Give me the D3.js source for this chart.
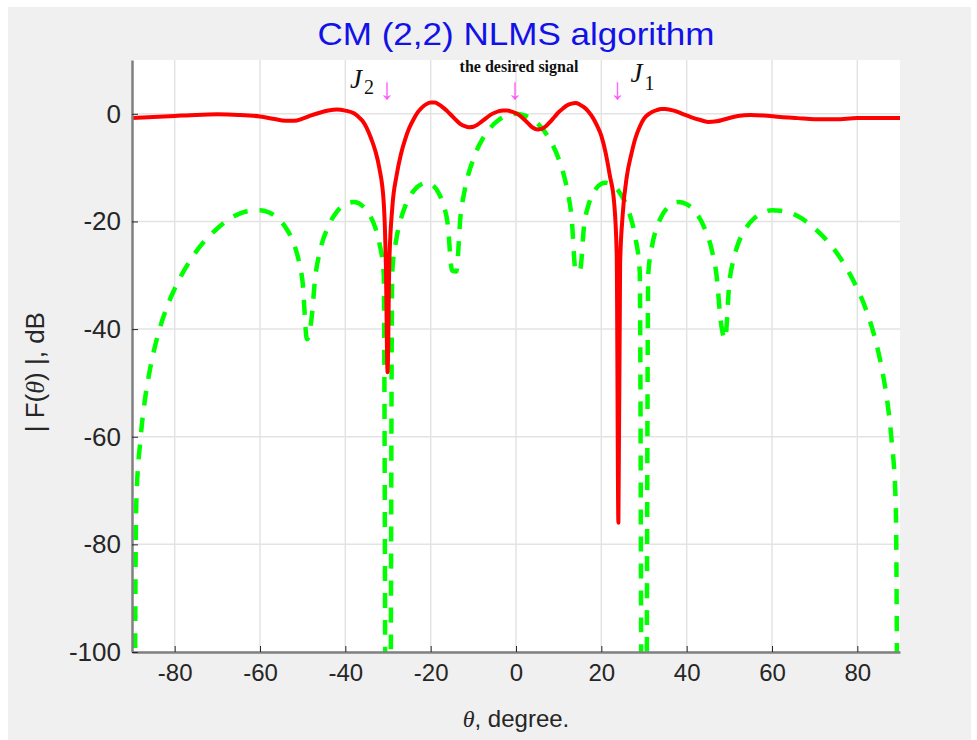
<!DOCTYPE html>
<html>
<head>
<meta charset="utf-8">
<title>CM (2,2) NLMS algorithm</title>
<style>
body { margin: 0; background: #ffffff; }
.axis path { stroke: #808080; stroke-width: 2.5px; }
.axis line { stroke: #262626; }
.axis text { font-family: 'Liberation Sans', Arial, sans-serif; fill: #262626; }
.x.axis text { font-size: 24px; }
.y.axis text { font-size: 26px; }
.grid line { stroke: #e3e3e3; stroke-width: 1.5px; }
</style>
</head>
<body>
<script src="https://d3js.org/d3.v7.min.js"></script>
<script>
'use strict';

// adapted pattern (red, solid)
const redTheta = [-90, -85, -80, -75, -70, -65, -60, -57, -54, -52, -50, -48, -46, -44, -42, -40, -38, -37, -36, -35,
  -34, -33, -32, -31, -30.5, -30.1, -29.7, -29, -28, -27, -26, -25, -24, -23, -22, -21, -20, -19, -18, -17,
  -16, -15, -14, -13, -12, -11, -10, -9, -8, -7, -6, -5, -4, -3, -2, -1, 0, 1, 2, 3,
  4, 5, 6, 7, 8, 9, 10, 11, 12, 13, 14, 15, 16, 17, 18, 19, 20, 21, 22, 23,
  23.6, 24, 24.4, 25, 26, 27, 28, 29, 30, 31, 32, 33, 34, 35, 37, 39, 41, 43, 45, 47,
  49, 52, 55, 58, 62, 66, 70, 75, 80, 85, 90];
const redDb = [-0.8, -0.6, -0.4, -0.2, -0.1, -0.2, -0.5, -0.9, -1.3, -1.3, -0.9, -0.3, 0.2, 0.6, 0.8, 0.6, 0.1, -0.5, -1.3, -2.6,
  -4.5, -6.8, -10.2, -16.5, -28, -48, -28, -17.5, -11.5, -7.6, -4.8, -2.6, -1.0, 0.3, 1.2, 1.8, 2.1, 2.1, 1.7, 1.1,
  0.4, -0.4, -1.2, -1.9, -2.3, -2.5, -2.4, -2.0, -1.4, -0.8, -0.2, 0.2, 0.5, 0.6, 0.6, 0.4, 0.1, -0.4, -1.1, -1.9,
  -2.6, -2.9, -2.8, -2.3, -1.5, -0.6, 0.3, 1.0, 1.6, 1.9, 2.0, 1.7, 1.2, 0.4, -0.7, -2.2, -4.1, -7.2, -11.5, -16.5,
  -26, -76, -28, -18.8, -11.5, -7.6, -4.5, -2.4, -0.9, -0.1, 0.4, 0.7, 0.9, 0.9, 0.6, 0.0, -0.6, -1.1, -1.5, -1.4,
  -1.0, -0.4, -0.2, -0.3, -0.6, -0.8, -1.0, -1.0, -0.8, -0.8, -0.8];

// conventional pattern (green, dashed)
const greenTheta = [-90, -89, -88, -87, -86, -85, -84, -82, -80, -78, -76, -74, -72, -70, -68, -66, -64, -62, -60, -58,
  -56, -54, -52, -51, -50, -49, -48, -47, -46, -44, -42, -40, -38, -36, -34, -33, -32, -31, -30, -29,
  -28, -27, -26, -24, -22, -21, -20, -18, -17, -16, -15, -14, -13, -12, -10, -8, -6, -4, -2, 0,
  2, 4, 6, 8, 10, 12, 13, 14, 15, 16, 17, 18, 20, 21, 22, 24, 26, 27, 28, 29,
  30, 31, 32, 33, 34, 36, 38, 40, 42, 44, 46, 47, 48, 49, 50, 51, 52, 54, 56, 58,
  60, 62, 64, 66, 68, 70, 72, 74, 76, 78, 80, 82, 84, 85, 86, 87, 88, 89, 90];
const greenDb = [-300, -72.4, -60.4, -53.3, -48.4, -44.5, -41.3, -36.3, -32.5, -29.4, -26.8, -24.6, -22.8, -21.3, -20.0, -19.0, -18.3, -18.0, -17.9, -18.3,
  -19.3, -21.1, -24.3, -27.0, -31.4, -41.9, -38.6, -30.0, -25.7, -20.9, -18.2, -16.8, -16.4, -17.1, -19.2, -21.1, -24.1, -29.8, -300, -29.3,
  -23.1, -19.6, -17.2, -14.3, -13.0, -12.8, -13.0, -14.9, -16.9, -20.5, -29.1, -29.3, -19.0, -14.1, -8.4, -4.9, -2.6, -1.1, -0.3, 0,
  -0.3, -1.1, -2.6, -4.9, -8.4, -14.1, -19.0, -29.3, -29.1, -20.5, -16.9, -14.9, -13.0, -12.8, -13.0, -14.3, -17.2, -19.6, -23.1, -29.3,
  -300, -29.8, -24.1, -21.1, -19.2, -17.1, -16.4, -16.8, -18.2, -20.9, -25.7, -30.0, -38.6, -41.9, -31.4, -27.0, -24.3, -21.1, -19.3, -18.3,
  -17.9, -18.0, -18.3, -19.0, -20.0, -21.3, -22.8, -24.6, -26.8, -29.4, -32.5, -36.3, -41.3, -44.5, -48.4, -53.3, -60.4, -72.4, -300];

const xTicks = [-80, -60, -40, -20, 0, 20, 40, 60, 80];
const yTicks = [-100, -80, -60, -40, -20, 0];
const markTheta = [-30, 0, 24];   // J2, desired signal, J1

const W = 977, H = 740;
const margin = {top: 60, right: 77, bottom: 88, left: 132};
const width = W - margin.left - margin.right;
const height = H - margin.top - margin.bottom;

const x = d3.scaleLinear().domain([-90, 90]).range([0, width]);
const y = d3.scaleLinear().domain([-100, 10]).range([height, 0]);

const svg = d3.select('body').append('svg')
  .attr('width', W)
  .attr('height', H);

// figure background
svg.append('rect').attr('width', W).attr('height', H).attr('fill', '#ffffff');
svg.append('rect').attr('x', 8).attr('y', 7).attr('width', W - 14).attr('height', H - 7).attr('fill', '#f0f0f0');

// title
svg.append('text')
  .attr('x', margin.left + x(0))
  .attr('y', 45)
  .attr('text-anchor', 'middle')
  .attr('textLength', 397)
  .attr('lengthAdjust', 'spacingAndGlyphs')
  .style('font-family', "'Liberation Sans', Arial, sans-serif")
  .style('font-size', '32px')
  .style('fill', '#1212e8')
  .text('CM (2,2) NLMS algorithm');

const g = svg.append('g')
  .attr('transform', 'translate(' + margin.left + ',' + margin.top + ')');

g.append('rect').attr('width', width).attr('height', height).attr('fill', '#ffffff');

// grid
g.append('g').attr('class', 'grid')
  .selectAll('line').data(xTicks).enter().append('line')
  .attr('x1', d => x(d)).attr('x2', d => x(d))
  .attr('y1', 0).attr('y2', height);
g.append('g').attr('class', 'grid')
  .selectAll('line').data(yTicks).enter().append('line')
  .attr('x1', 0).attr('x2', width)
  .attr('y1', d => y(d)).attr('y2', d => y(d));

// clip curves to the axes box
g.append('clipPath').attr('id', 'clip')
  .append('rect').attr('width', width).attr('height', height);

const line = d3.line().curve(d3.curveMonotoneX);

g.append('path')
  .attr('clip-path', 'url(#clip)')
  .attr('fill', 'none')
  .attr('stroke', '#00ff00')
  .attr('stroke-width', 4.5)
  .attr('stroke-dasharray', '15,12')
  .attr('d', line(greenTheta.map((t, i) => [x(t), y(greenDb[i])])));

g.append('path')
  .attr('clip-path', 'url(#clip)')
  .attr('fill', 'none')
  .attr('stroke', '#ff0000')
  .attr('stroke-width', 4)
  .attr('stroke-linejoin', 'round')
  .attr('d', line(redTheta.map((t, i) => [x(t), y(redDb[i])])));

// axes
g.append('g')
  .attr('class', 'x axis')
  .attr('transform', 'translate(0,' + height + ')')
  .call(d3.axisBottom(x).tickValues(xTicks).tickSizeInner(-6).tickSizeOuter(0).tickPadding(12))
  .call(a => a.selectAll('text').text(d => String(d)));

g.append('g')
  .attr('class', 'y axis')
  .call(d3.axisLeft(y).tickValues(yTicks).tickSizeInner(-6).tickSizeOuter(0).tickPadding(11))
  .call(a => a.selectAll('text').text(d => String(d)));

// axis labels
const xl = svg.append('text')
  .attr('x', margin.left + x(0))
  .attr('y', 727)
  .attr('text-anchor', 'middle')
  .style('font-family', "'Liberation Sans', Arial, sans-serif")
  .style('font-size', '24px')
  .style('fill', '#262626');
xl.append('tspan').style('font-style', 'italic').style('font-family', "'Liberation Serif', serif").text('\u03b8');
xl.append('tspan').text(', degree.');

const yl = svg.append('text')
  .attr('transform', 'translate(44,' + (margin.top + y(-48)) + ') rotate(-90)')
  .attr('text-anchor', 'middle')
  .style('font-family', "'Liberation Sans', Arial, sans-serif")
  .style('font-size', '26px')
  .style('fill', '#262626');
yl.append('tspan').text('| F(');
yl.append('tspan').style('font-style', 'italic').style('font-family', "'Liberation Serif', serif").text('\u03b8');
yl.append('tspan').text(') |, dB');

// annotations
const ann = svg.append('g').style('font-family', "'Liberation Serif', 'Times New Roman', serif");

ann.selectAll('text.arrow').data(markTheta).enter().append('text')
  .attr('class', 'arrow')
  .attr('x', d => margin.left + x(d) - 1)
  .attr('y', 99)
  .attr('text-anchor', 'middle')
  .style('font-size', '30px')
  .style('fill', '#ff55ff')
  .text('\u2193');

ann.append('text')
  .attr('x', margin.left + x(markTheta[1]) + 3)
  .attr('y', 72)
  .attr('text-anchor', 'middle')
  .style('font-size', '16px')
  .style('font-weight', 'bold')
  .style('fill', '#111111')
  .text('the desired signal');

const j2 = ann.append('text')
  .attr('x', margin.left + x(markTheta[0]) - 38)
  .attr('y', 88)
  .style('fill', '#111111');
j2.append('tspan').style('font-style', 'italic').style('font-size', '27px').text('J');
j2.append('tspan').attr('dy', 6).attr('dx', 2).style('font-size', '20px').text('2');

const j1 = ann.append('text')
  .attr('x', margin.left + x(markTheta[2]) + 12)
  .attr('y', 82)
  .style('fill', '#111111');
j1.append('tspan').style('font-style', 'italic').style('font-size', '27px').text('J');
j1.append('tspan').attr('dy', 8).attr('dx', 2).style('font-size', '20px').text('1');
</script>
</body>
</html>
